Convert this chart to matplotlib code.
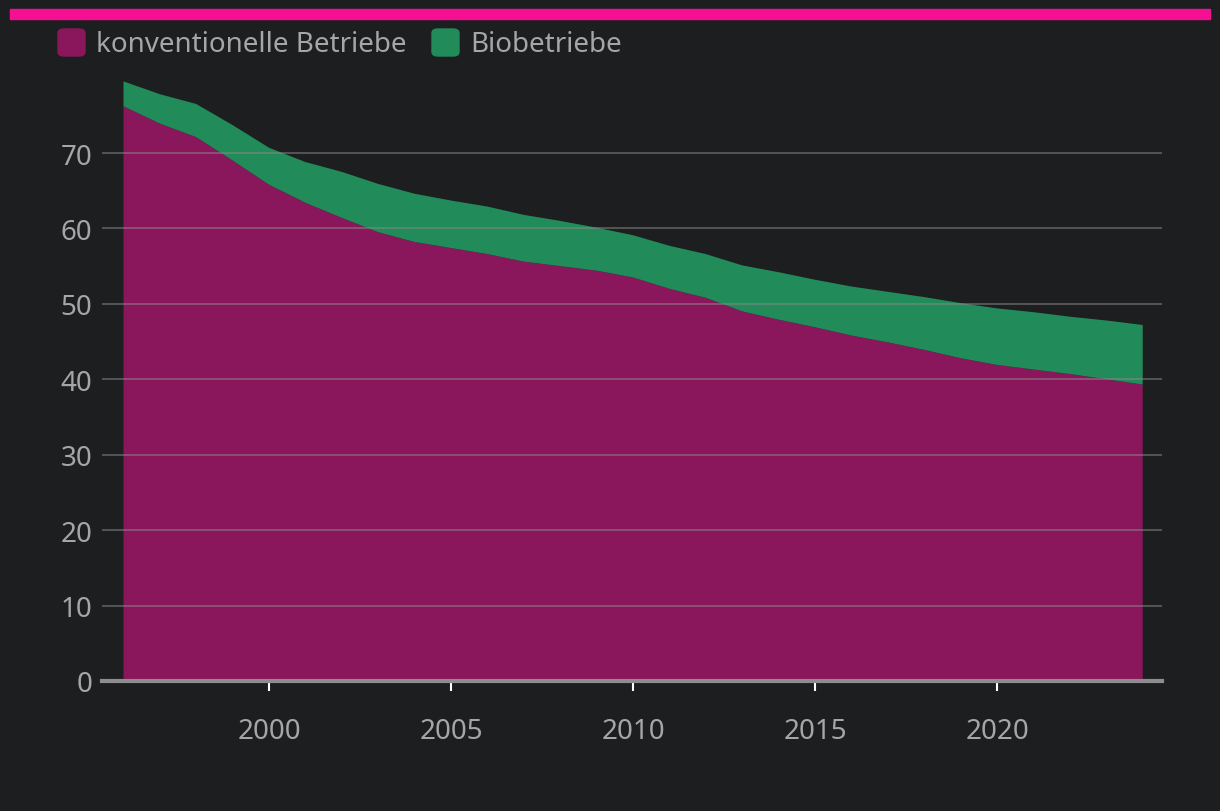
import matplotlib.pyplot as plt
import numpy as np
from matplotlib.patches import FancyBboxPatch

years = list(range(1996, 2025))
konventionell = [76.2, 73.9, 72.1, 69.0, 65.8, 63.4, 61.4, 59.5, 58.2, 57.4,
                 56.6, 55.6, 55.0, 54.4, 53.5, 52.0, 50.8, 49.0, 47.9, 46.9,
                 45.8, 44.9, 43.9, 42.8, 41.9, 41.3, 40.7, 40.0, 39.3]
bio = [3.3, 3.9, 4.4, 4.7, 4.9, 5.4, 6.1, 6.4, 6.4, 6.3,
       6.3, 6.2, 6.0, 5.7, 5.6, 5.7, 5.8, 6.1, 6.3, 6.3,
       6.5, 6.7, 7.0, 7.3, 7.5, 7.6, 7.6, 7.8, 7.9]
labels = ["konventionelle Betriebe", "Biobetriebe"]
colors = ["#8a165b", "#228b5a"]
yticks = [0, 10, 20, 30, 40, 50, 60, 70]
xticks = [2000, 2005, 2010, 2015, 2020]

bg = "#1d1e20"
textcol = "#a6a6a6"
plt.rcParams['font.family'] = ['Noto Sans', 'DejaVu Sans']

fig = plt.figure(figsize=(12.2, 8.12), dpi=100, facecolor=bg)
W, H = 1220, 812
ax = fig.add_axes([102 / W, 1 - 682 / H, (1162 - 102) / W, (682 - 78.6) / H])
ax.set_facecolor(bg)

ax.stackplot(years, konventionell, bio, colors=colors, linewidth=0, zorder=1)

ax.set_xlim(1995.41, 2024.53)
ax.set_ylim(0, 80)
ax.set_yticks(yticks)
ax.set_xticks(xticks)
for t in yticks[1:]:
    ax.axhline(t, color="#8a8a8a", alpha=0.55, lw=1.3, zorder=2)
ax.axhline(0, color="#8d8d8d", lw=3, zorder=3, clip_on=False)

for s in ax.spines.values():
    s.set_visible(False)
ax.tick_params(axis='y', length=0, pad=7, labelsize=20, labelcolor=textcol)
ax.tick_params(axis='x', length=7, width=1.5, color="white", direction='out',
               pad=19, labelsize=20, labelcolor=textcol)

# pink bar at top
fig.patches.append(plt.Rectangle((10 / W, 1 - 20 / H), 1200 / W, 10 / H,
                                 transform=fig.transFigure, color="#f50f93"))

# legend
lx = [58, 432]
for i in range(2):
    fig.patches.append(FancyBboxPatch((lx[i] / W, 1 - 57 / H), 27 / W, 27 / H,
                                      boxstyle="round,pad=0,rounding_size=0.005",
                                      transform=fig.transFigure, color=colors[i]))
    fig.text((lx[i] + 38) / W, 1 - 45 / H, labels[i], color=textcol, fontsize=20,
             va='center', ha='left')

fig.savefig("out.png", dpi=100, facecolor=bg)
